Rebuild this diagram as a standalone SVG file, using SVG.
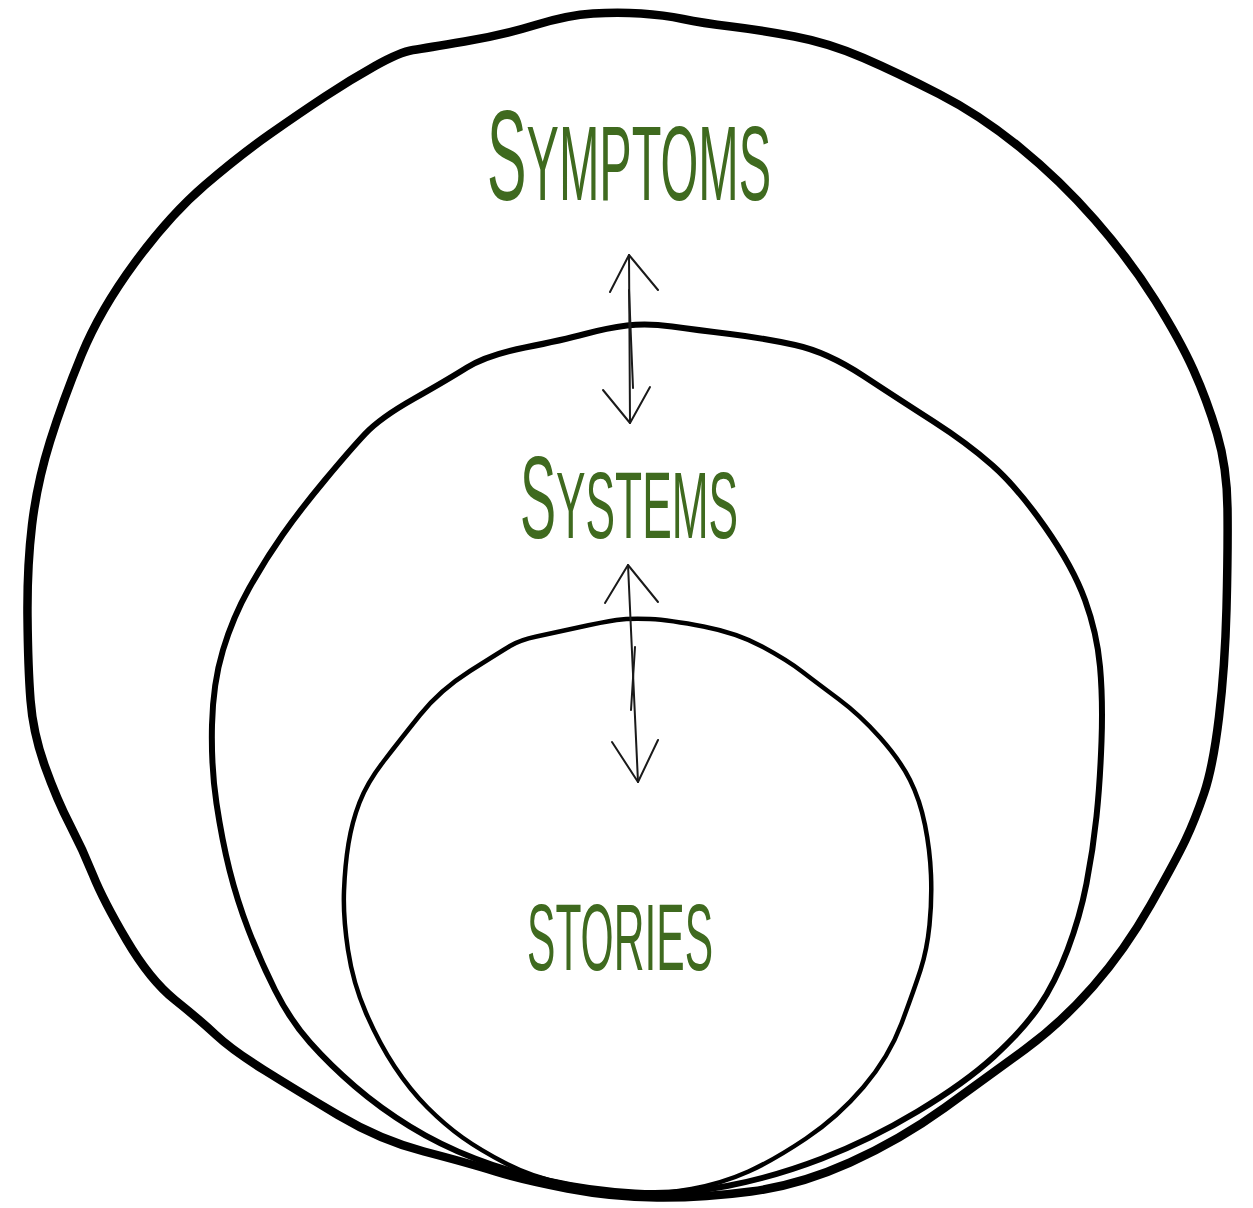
<svg xmlns="http://www.w3.org/2000/svg" width="1253" height="1208" viewBox="0 0 1253 1208">
<style>
.ring{fill:none;stroke:#000;stroke-linejoin:round;stroke-linecap:round}
.lbl{font-family:"Liberation Sans",Arial,sans-serif;fill:#3f6a1f;font-weight:400}
.up{text-transform:uppercase}
.arr{fill:none;stroke:#1a1a1a;stroke-width:2;stroke-linecap:round;stroke-linejoin:round}
</style>
<rect width="1253" height="1208" fill="#fff"/>
<g id="outer-circle">
<path class="ring" stroke-width="8.5" d="M270,134 Q300,113 325,96.5 Q350,80 375,66 Q400,52 413,50 Q426,48 464.5,41.5 Q503,35 535.5,25 Q568,15 593,13.5 Q618,12 641,13.5 Q664,15 683,19 Q702,23 731,26.5 Q760,30 794.5,36.5 Q829,43 863.5,58 Q898,73 939,94 Q980,115 1020,147.5 Q1060,180 1095,220 Q1130,260 1155,300 Q1180,340 1193.5,370 Q1207,400 1217,433.5 Q1227,467 1227.5,508.5 Q1228,550 1226.5,608.5 Q1225,667 1219,717 Q1213,767 1204,793.5 Q1195,820 1185.5,840 Q1176,860 1150.5,905 Q1125,950 1093,986.5 Q1061,1023 1025.5,1049 Q990,1075 945,1107.5 Q900,1140 850,1162.5 Q800,1185 751,1191.5 Q702,1198 657,1197.5 Q612,1197 567.5,1188.5 Q523,1180 495.5,1171.5 Q468,1163 424,1151.5 Q380,1140 338,1115 Q296,1090 264,1070 Q232,1050 216,1035 Q200,1020 175,1000 Q150,980 126.5,940 Q103,900 93,875 Q83,850 70,825 Q57,800 45,766.5 Q33,733 30.5,700 Q28,667 27.5,617 Q27,567 32,525 Q37,483 50,441.5 Q63,400 81.5,355 Q100,310 135,262.5 Q170,215 205,185 Q240,155 270,134 Z"/>
<text class="lbl" x="0" y="0" transform="translate(487,200) scale(0.4625,1)"><tspan font-size="128">S</tspan><tspan class="up" font-size="105">ymptoms</tspan></text>
</g>
<g id="middle-circle">
<path class="ring" stroke-width="6" d="M365,434 Q380,418 413.5,399 Q447,380 467,367.5 Q487,355 525,347.5 Q563,340 585,334 Q607,328 627,325.5 Q647,323 672,326.5 Q697,330 730,334 Q763,338 795,345 Q827,352 863.5,376 Q900,400 933.5,421.5 Q967,443 992,465 Q1017,487 1045,527 Q1073,567 1085,600 Q1097,633 1100,666.5 Q1103,700 1101.5,741.5 Q1100,783 1096.5,816.5 Q1093,850 1086.5,883.5 Q1080,917 1067.5,950 Q1055,983 1039,1006.5 Q1023,1030 994,1056.5 Q965,1083 917.5,1111.5 Q870,1140 822,1158.5 Q774,1177 727,1186 Q680,1195 635,1192.5 Q590,1190 550,1181 Q510,1172 475,1158.5 Q440,1145 410,1126.5 Q380,1108 355,1086.5 Q330,1065 310,1042.5 Q290,1020 275,990 Q260,960 248.5,930 Q237,900 229.5,870 Q222,840 216.5,803.5 Q211,767 212,725 Q213,683 223,650 Q233,617 249,588.5 Q265,560 282.5,535 Q300,510 325,480 Q350,450 365,434 Z"/>
<text class="lbl" x="0" y="0" transform="translate(520,538) scale(0.466,1)"><tspan font-size="116">S</tspan><tspan class="up" font-size="95">ystems</tspan></text>
</g>
<g id="inner-circle">
<path class="ring" stroke-width="4.5" d="M420,715 Q440,690 470,671 Q500,652 510,646 Q520,640 536.5,636.5 Q553,633 578,627.5 Q603,622 616.5,620 Q630,618 650,619 Q670,620 703.5,626.5 Q737,633 762,646.5 Q787,660 802,671.5 Q817,683 838.5,699 Q860,715 880,737.5 Q900,760 910,780 Q920,800 925,825 Q930,850 931,875 Q932,900 929.5,925 Q927,950 920.5,970 Q914,990 901.5,1023.5 Q889,1057 863.5,1087 Q838,1117 806,1138.5 Q774,1160 748.5,1171.5 Q723,1183 691.5,1189 Q660,1195 627.5,1192.5 Q595,1190 563.5,1183.5 Q532,1177 506,1163.5 Q480,1150 462.5,1137.5 Q445,1125 427.5,1107.5 Q410,1090 394.5,1066.5 Q379,1043 366,1013 Q353,983 348,950 Q343,917 344,891 Q345,865 348.5,843.5 Q352,822 359.5,802.5 Q367,783 383.5,761.5 Q400,740 420,715 Z"/>
<text class="lbl up" x="0" y="0" font-size="95" transform="translate(527,970) scale(0.448,1)">stories</text>
</g>
<g id="connectors">
<g id="arrow-symptoms-systems">
<path class="arr" d="M629,255 L630,423"/>
<path class="arr" d="M629,290 L633,388" stroke-width="1.5"/>
<path class="arr" d="M610,292 L629,255 L658,290"/>
<path class="arr" d="M603,390 L630,423 L650,387"/>
</g>
<g id="arrow-systems-stories">
<path class="arr" d="M628,565 L638,782"/>
<path class="arr" d="M635,647 L631,710" stroke-width="1.5"/>
<path class="arr" d="M605,603 L628,565 L658,602"/>
<path class="arr" d="M612,742 L638,782 L658,740"/>
</g>
</g>
</svg>
